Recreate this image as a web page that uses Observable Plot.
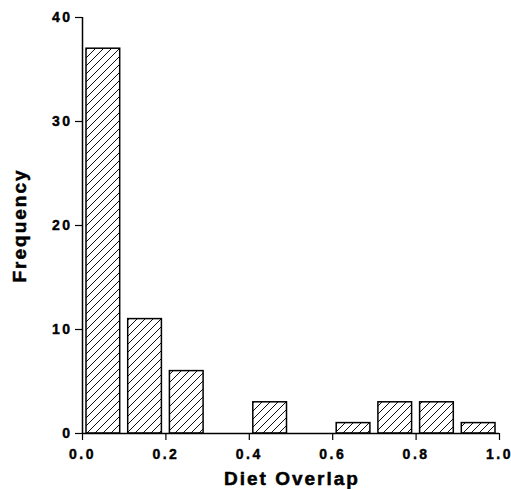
<!DOCTYPE html>
<html>
<head>
<meta charset="utf-8">
<script src="https://cdn.jsdelivr.net/npm/d3@7"></script>
<script src="https://cdn.jsdelivr.net/npm/@observablehq/plot@0.6"></script>
<style>
  html, body { margin: 0; padding: 0; background: #fff; }
  svg { overflow: visible; }
</style>
</head>
<body>
<div id="chart"></div>
<script>
const binLow = [0.0, 0.1, 0.2, 0.4, 0.6, 0.7, 0.8, 0.9];
const binHigh = [0.1, 0.2, 0.3, 0.5, 0.7, 0.8, 0.9, 1.0];
const frequency = [37, 11, 6, 3, 1, 3, 3, 1];
const xTicks = [0.0, 0.2, 0.4, 0.6, 0.8, 1.0];
const yTicks = [0, 10, 20, 30, 40];
const xLabel = "Diet Overlap";
const yLabel = "Frequency";

const data = binLow.map((lo, i) => ({lo, hi: binHigh[i], f: frequency[i]}));

const svg = Plot.plot({
  width: 511,
  height: 489,
  marginLeft: 82,
  marginRight: 12,
  marginTop: 17,
  marginBottom: 56,
  x: {domain: [0, 1]},
  y: {domain: [0, 40]},
  style: {
    fontFamily: "'Liberation Sans', Arial, sans-serif",
    fontWeight: "bold",
    background: "white",
    color: "#000",
    overflow: "visible"
  },
  marks: [
    Plot.rectY(data, {
      x1: "lo", x2: "hi", y: "f",
      insetLeft: 4, insetRight: 4,
      fill: "url(#hatch)", stroke: "#000", strokeWidth: 1.5
    }),
    Plot.ruleX([0], {y1: 0, y2: 40, stroke: "#000", strokeWidth: 1.5}),
    Plot.ruleY([0], {x1: 0, x2: 1, stroke: "#000", strokeWidth: 1.5}),
    Plot.axisY({ticks: yTicks, tickSize: 7, tickPadding: 3, fontSize: 14, label: null, strokeWidth: 1.2}),
    Plot.axisX({ticks: xTicks, tickFormat: d3.format(".1f"), tickSize: 7, tickPadding: 9, fontSize: 14, label: null, strokeWidth: 1.2}),
    Plot.text([xLabel], {text: d => d, frameAnchor: "bottom", textAnchor: "middle", lineAnchor: "middle", dy: 45, dx: 1, fontSize: 19}),
    Plot.text([yLabel], {text: d => d, frameAnchor: "left", textAnchor: "middle", lineAnchor: "middle", dx: -63, rotate: -90, fontSize: 19})
  ]
});

d3.select(svg).selectAll("text").each(function() {
  const t = this.textContent;
  const big = (t === xLabel || t === yLabel);
  d3.select(this)
    .style("font-size", big ? "19px" : "14px")
    .style("font-weight", "bold")
    .style("font-family", "'Liberation Sans', Arial, sans-serif")
    .style("letter-spacing", big ? "2px" : "2.5px")
    .style("fill", "#000")
    .style("stroke", "#000")
    .style("stroke-width", big ? "0.5px" : "0.4px");
});

const defs = d3.select(svg).insert("defs", ":first-child");
const pat = defs.append("pattern")
  .attr("id", "hatch")
  .attr("patternUnits", "userSpaceOnUse")
  .attr("width", 8)
  .attr("height", 8);
pat.append("rect").attr("width", 8).attr("height", 8).attr("fill", "white");
pat.append("path")
  .attr("d", "M0,8 L8,0 M-2,2 L2,-2 M6,10 L10,6")
  .attr("stroke", "#111")
  .attr("stroke-width", 1);

document.getElementById("chart").appendChild(svg);
</script>
</body>
</html>
